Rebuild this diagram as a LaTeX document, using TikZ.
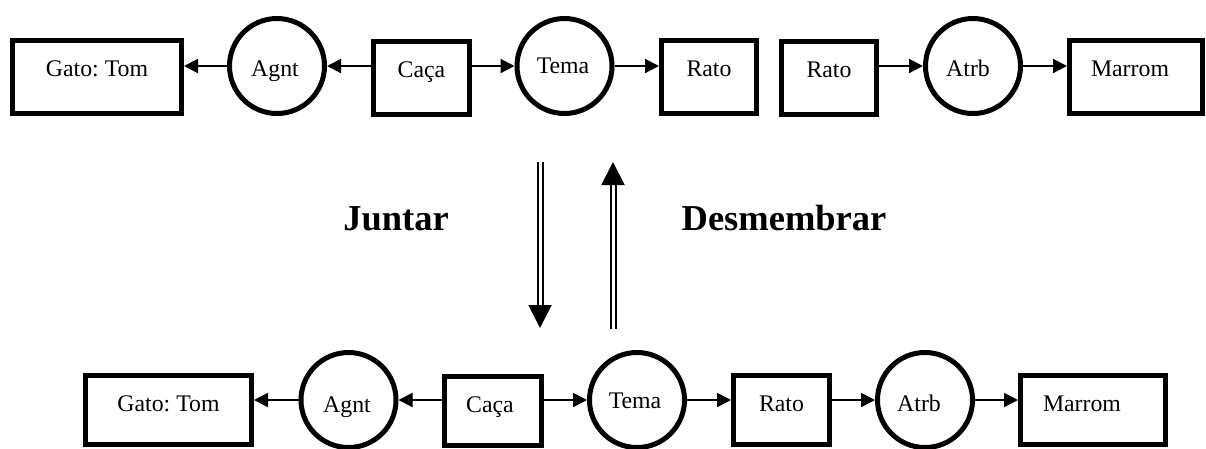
\documentclass[tikz,border=0pt]{standalone}
\usepackage{fontspec}
\setmainfont{Liberation Serif}
\usetikzlibrary{arrows.meta}
\frenchspacing
\begin{document}
\begin{tikzpicture}[x=1pt,y=-1pt,
 box/.style={draw, line width=5pt, rectangle, inner xsep=0pt, inner ysep=0pt,
   text height=35.5pt, text depth=37.5pt, anchor=base, font=\fontsize{23.8}{28}\selectfont},
 boxb/.style={box, text depth=33pt},
 circ/.style={draw, circle, line width=5pt, minimum size=95pt, inner sep=0pt},
 lbl/.style={anchor=base, inner sep=0pt, font=\fontsize{23.8}{28}\selectfont},
 conn/.style={line width=2pt, -{Triangle[length=14pt,width=14pt]}},
 dbl/.style={double, double distance=3pt, line width=2pt, -{Triangle[length=23pt,width=23pt]}},
 big/.style={anchor=base, inner sep=0pt, font=\fontsize{36.5}{40}\selectfont\bfseries}]

\useasboundingbox (0,0) rectangle (1206,448);

% top row
\node[box, minimum width=169pt] (gato1) at (97,76) {Gato: Tom};
\node[circ] (agnt1) at (277,66) {};
\node[lbl] (agnt1t) at (275,76) {Agnt};
\node[box, minimum width=96pt] (caca1) at (421.5,77) {Caça};
\node[circ] (tema1) at (564.5,66) {};
\node[lbl] (tema1t) at (563,73) {Tema};
\node[box, minimum width=95pt] (rato1) at (709,76) {Rato};
\node[box, minimum width=95pt] (rato2) at (829,77) {Rato};
\node[circ] (atrb1) at (973,66) {};
\node[lbl] (atrb1t) at (968,76) {Atrb};
\node[box, minimum width=133pt] (marrom1) at (1136,76) {\hspace*{-12pt}Marrom};

\draw[conn] (agnt1.west) -- (agnt1.west -| gato1.east);
\draw[conn] (agnt1.east -| caca1.west) -- (agnt1.east);
\draw[conn] (tema1.west -| caca1.east) -- (tema1.west);
\draw[conn] (tema1.east) -- (tema1.east -| rato1.west);
\draw[conn] (atrb1.west -| rato2.east) -- (atrb1.west);
\draw[conn] (atrb1.east) -- (atrb1.east -| marrom1.west);

% middle
\coordinate (jA) at (540,162);
\coordinate (jB) at (540,328);
\draw[dbl] (jA) -- (jB);
\coordinate (dA) at (613,329);
\coordinate (dB) at (613,162);
\draw[dbl] (dA) -- (dB);
\node[big] (juntar) at (396,230) {Juntar};
\node[big] (desm) at (784,230) {Desmembrar};

% bottom row
\node[boxb, minimum width=166pt] (gato2) at (168.5,411) {Gato: Tom};
\node[circ] (agnt2) at (348.5,400) {};
\node[lbl] (agnt2t) at (347,412) {Agnt};
\node[boxb, minimum width=97pt] (caca2) at (493,412) {\hspace*{-6pt}Caça};
\node[circ] (tema2) at (637,400) {};
\node[lbl] (tema2t) at (635,408) {Tema};
\node[boxb, minimum width=96pt] (rato3) at (781.5,411) {Rato};
\node[circ] (atrb2) at (925,400) {};
\node[lbl] (atrb2t) at (919,411) {Atrb};
\node[boxb, minimum width=145pt] (marrom2) at (1093,411) {\hspace*{-22pt}Marrom};

\draw[conn] (agnt2.west) -- (agnt2.west -| gato2.east);
\draw[conn] (agnt2.east -| caca2.west) -- (agnt2.east);
\draw[conn] (tema2.west -| caca2.east) -- (tema2.west);
\draw[conn] (tema2.east) -- (tema2.east -| rato3.west);
\draw[conn] (atrb2.west -| rato3.east) -- (atrb2.west);
\draw[conn] (atrb2.east) -- (atrb2.east -| marrom2.west);
\end{tikzpicture}
\end{document}
